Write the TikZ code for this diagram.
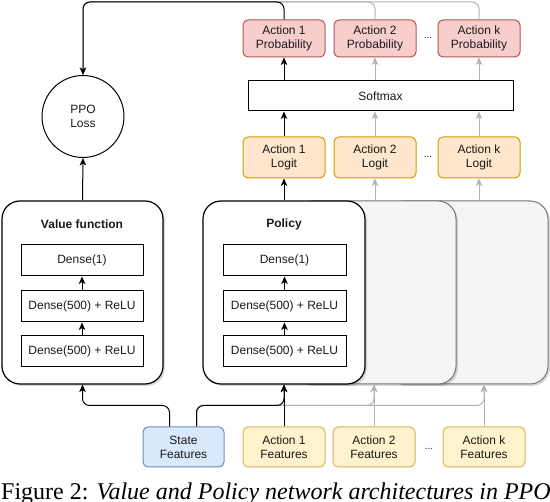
\documentclass[tikz,border=0pt]{standalone}
\usepackage{fontspec}
\setmainfont{Liberation Sans}
\newfontfamily\capfont{Liberation Serif}
\usetikzlibrary{arrows.meta,shadows,calc}
\definecolor{redfill}{HTML}{F8CECC}
\definecolor{reddraw}{HTML}{B85450}
\definecolor{orafill}{HTML}{FFE6CC}
\definecolor{oradraw}{HTML}{D79B00}
\definecolor{yelfill}{HTML}{FFF2CC}
\definecolor{yeldraw}{HTML}{D6B656}
\definecolor{blufill}{HTML}{DAE8FC}
\definecolor{bludraw}{HTML}{6C8EBF}
\definecolor{gryfill}{HTML}{F5F5F5}
\definecolor{grydraw}{HTML}{777777}
\definecolor{lineg}{HTML}{B3B3B3}
\definecolor{txt}{HTML}{1A1A1A}
\begin{document}
\begin{tikzpicture}[x=1pt,y=-1pt,
  every node/.style={font=\fontsize{12}{14}\selectfont, text=txt, inner sep=0pt, align=center},
  netbox/.style={draw=black, line width=1.2pt, fill=white, rounded corners=18pt,
     minimum width=162pt, minimum height=183pt,
     drop shadow={shadow xshift=2pt, shadow yshift=-2pt, fill=black, opacity=0.15}},
  ghostbox/.style={netbox, draw=grydraw, line width=1pt, fill=gryfill},
  layerbox/.style={draw=black, line width=1pt, fill=white, minimum width=122pt, minimum height=31pt},
  probbox/.style={draw=reddraw, fill=redfill, line width=1pt, rounded corners=5pt, minimum width=82pt, minimum height=37pt},
  logitbox/.style={draw=oradraw, fill=orafill, line width=1pt, rounded corners=5pt, minimum width=82pt, minimum height=41pt},
  featbox/.style={draw=yeldraw, fill=yelfill, line width=1pt, rounded corners=5pt, minimum width=82pt, minimum height=40pt},
  statebox/.style={featbox, draw=bludraw, fill=blufill, minimum width=81pt},
  arr/.style={draw=black, line width=1pt, rounded corners=7pt, -{Stealth[length=7.5pt,width=6.5pt,inset=2pt]}},
  garr/.style={arr, draw=lineg},
  dots/.style={font=\fontsize{10}{12}\selectfont}
]
\useasboundingbox (0,0) rectangle (550,502);
\fill[white] (0,0) rectangle (550,502);

% network boxes
\node[ghostbox] (g3) at (467,292.5) {};
\node[ghostbox] (g2) at (375,292.5) {};
\node[netbox] (pol) at (284,292.5) {};
\node[netbox, minimum width=161pt] (vf) at (82.5,292.5) {};

\node[font=\bfseries\fontsize{12}{14}\selectfont] (vft) at (82,224) {Value function};
\node[font=\bfseries\fontsize{12}{14}\selectfont] (polt) at (284,224) {Policy};

\node[layerbox] (vd1) at (82,260.5) {Dense(1)};
\node[layerbox] (vd2) at (82,306.5) {Dense(500) + ReLU};
\node[layerbox] (vd3) at (82,351.5) {Dense(500) + ReLU};
\node[layerbox, minimum width=123pt] (pd1) at (284.5,260.5) {Dense(1)};
\node[layerbox, minimum width=123pt] (pd2) at (284.5,306.5) {Dense(500) + ReLU};
\node[layerbox, minimum width=123pt] (pd3) at (284.5,351.5) {Dense(500) + ReLU};

% loss
\node[circle, draw=black, line width=1pt, fill=white, minimum size=82pt] (loss) at (83,116.5) {PPO\\Loss};

% top row
\node[probbox] (p1) at (284,38.5) {Action 1\\Probability};
\node[probbox] (p2) at (375,38.5) {Action 2\\Probability};
\node[probbox] (pk) at (479,38.5) {Action k\\Probability};
\node[dots] (pdots) at (428,38) {...};

\node[draw=black, line width=1pt, fill=white, minimum width=265pt, minimum height=30pt] (sm) at (380.5,96) {Softmax};

\node[logitbox] (l1) at (284,157.5) {Action 1\\Logit};
\node[logitbox] (l2) at (375,157.5) {Action 2\\Logit};
\node[logitbox] (lk) at (479,157.5) {Action k\\Logit};
\node[dots] (ldots) at (428,157) {...};

% features
\node[statebox] (sf) at (183.5,447) {State\\Features};
\node[featbox] (af1) at (284,447) {Action 1\\Features};
\node[featbox] (af2) at (374,447) {Action 2\\Features};
\node[featbox] (afk) at (484,447) {Action k\\Features};
\node[dots] (fdots) at (429,449) {...};

\coordinate (top) at (0,2);

% gray connectors
\draw[garr] (pk.north) -- (pk.north |- top) -| (loss.north);
\draw[garr] (p2.north) -- (p2.north |- top) -| (loss.north);
\draw[garr] (l2.north) -- (l2.north |- sm.south);
\draw[garr] (lk.north) -- (lk.north |- sm.south);
\draw[garr] (p2.south |- sm.north) -- (p2.south);
\draw[garr] (pk.south |- sm.north) -- (pk.south);
\draw[garr] (l2.south |- g2.north) -- (l2.south);
\draw[garr] (lk.south |- g3.north) -- (lk.south);
\draw[garr] ([xshift=13pt]sf.north) -- ++(0,-21) -| (af2.north |- g2.south);
\draw[garr] ([xshift=13pt]sf.north) -- ++(0,-21) -| (afk.north |- g3.south);
\draw[garr] (af2.north) -- (af2.north |- g2.south);
\draw[garr] (afk.north) -- (afk.north |- g3.south);

% black connectors
\draw[arr] (p1.north) -- (p1.north |- top) -| (loss.north);
\draw[arr] (vf.north) -- (loss.south);
\draw[arr] (pol.north) -- (l1.south);
\draw[arr] (l1.north) -- (l1.north |- sm.south);
\draw[arr] (p1.south |- sm.north) -- (p1.south);
\draw[arr] (vd3.north) -- (vd2.south);
\draw[arr] (vd2.north) -- (vd1.south);
\draw[arr] (pd3.north) -- (pd2.south);
\draw[arr] (pd2.north) -- (pd1.south);
\draw[arr] ([xshift=-14pt]sf.north) -- ++(0,-21) -| (vf.south);
\draw[arr] ([xshift=13pt]sf.north) -- ++(0,-21) -| (pol.south);
\draw[arr] (af1.north) -- (pol.south);

% caption
\node[anchor=base west, font=\capfont\fontsize{24}{28}\selectfont, text=black] (cap) at (1,500) {Figure 2: \textit{Value and Policy network architectures in PPO}};
\end{tikzpicture}
\end{document}
